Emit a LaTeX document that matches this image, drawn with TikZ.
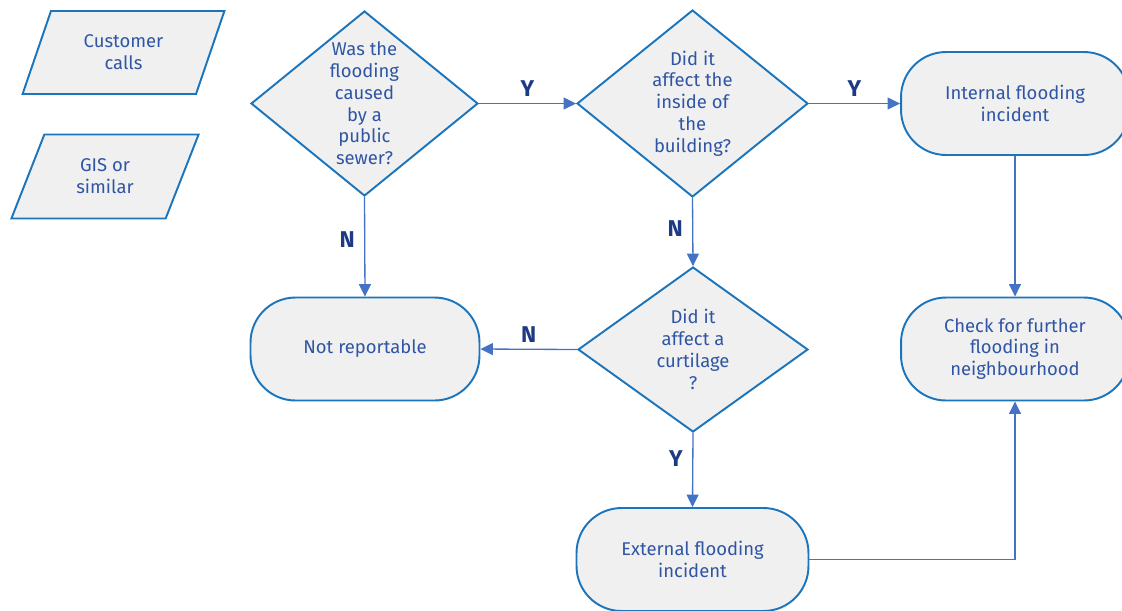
\documentclass[tikz,border=0pt]{standalone}
\usepackage{fontspec}
\setmainfont{Fira Sans}
\usetikzlibrary{shapes.geometric,arrows.meta}
\definecolor{shapeblue}{RGB}{27,117,188}
\definecolor{lineblue}{RGB}{68,114,196}
\definecolor{textblue}{RGB}{47,85,164}
\definecolor{ynblue}{RGB}{31,58,133}
\definecolor{boxgray}{RGB}{240,240,240}

\begin{document}
\begin{tikzpicture}[x=0.02cm,y=-0.02cm,
  font=\fontsize{10.5}{12.4}\selectfont,
  box/.style={draw=shapeblue,fill=boxgray,line width=1.1pt,text=textblue,align=center,inner sep=0pt},
  inout/.style={box,trapezium,trapezium stretches=true,trapezium left angle=66,trapezium right angle=114},
  question/.style={box,diamond},
  terminal/.style={box,rectangle,rounded corners=0.9cm,minimum height=2.06cm},
  flow/.style={draw=lineblue,line width=0.75pt,-{Triangle[length=0.25cm,width=0.24cm]}},
  yn/.style={text=ynblue,font=\fontsize{13}{15}\selectfont\bfseries}]
\useasboundingbox (0,0) rectangle (1122,610);

\node[inout,minimum width=4.06cm,minimum height=1.66cm] (calls) at (123.5,52.5) {Customer\\calls};
\node[inout,minimum width=3.76cm,minimum height=1.68cm] (gis) at (105,176.5) {GIS or\\similar};

\node[question,aspect=1.227,minimum width=4.54cm,minimum height=3.70cm] (sewer) at (364.5,103.5) {Was the\\flooding\\caused\\by a\\public\\sewer?};
\node[question,aspect=1.235,minimum width=4.62cm,minimum height=3.74cm] (inside) at (692.5,103.5) {Did it\\affect the\\inside of\\the\\building?};
\node[question,aspect=1.39,minimum width=4.6cm,minimum height=3.3cm] (curt) at (693,349.5) {Did it\\affect a\\curtilage\\?};

\node[terminal,minimum width=4.56cm] (internal) at (1015,103.5) {Internal flooding\\incident};
\node[terminal,minimum width=4.58cm] (notrep) at (365,349) {Not reportable};
\node[terminal,minimum width=4.56cm] (check) at (1015,349) {Check for further\\flooding in\\neighbourhood};
\node[terminal,minimum width=4.64cm] (external) at (692.5,559.5) {External flooding\\incident};

\draw[flow] (sewer.east) -- node[yn,above=0pt] {Y} (inside.west);
\draw[flow] (inside.east) -- node[yn,above=0pt] {Y} (internal.west);
\draw[flow] (sewer.south) -- node[yn,pos=0.43,left=2pt] {N} (notrep.north);
\draw[flow] (inside.south) -- node[yn,pos=0.45,left=2pt] {N} (curt.north);
\draw[flow] (curt.west) -- node[yn,above=0pt] {N} (notrep.east);
\draw[flow] (curt.south) -- node[yn,pos=0.34,left=2pt] {Y} (external.north);
\draw[flow] (internal.south) -- (check.north);
\draw[flow] (external.east) -| (check.south);
\end{tikzpicture}
\end{document}
